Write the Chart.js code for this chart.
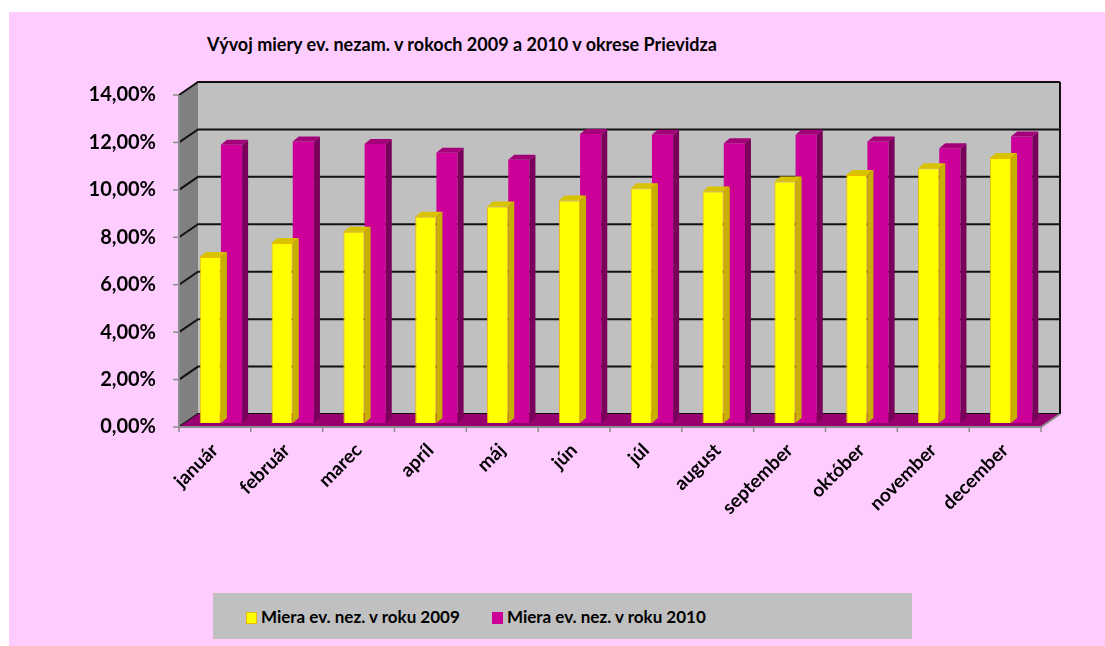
<!DOCTYPE html>
<html>
<head>
<meta charset="utf-8">
<script src="https://cdn.jsdelivr.net/npm/chart.js@4.4.0/dist/chart.umd.min.js"></script>
<style>
  html, body { margin: 0; padding: 0; background: #fff; }
  #wrap { position: relative; width: 1105px; height: 646px; overflow: hidden; }
  #bg { position: absolute; left: 9px; top: 12px; right: 0; bottom: 0; background: #FFCCFF; }
  #chart { position: absolute; left: 0; top: 0; }
  #title { position: absolute; left: 0; width: 924px; top: 33px; text-align: center;
    font: bold 18px Lato, sans-serif; color: #000; }
  #legend { position: absolute; left: 213px; top: 593px; width: 699px; height: 46px; background: #C0C0C0;
    font: bold 17px Lato, sans-serif; color: #000; }
  .item { position: absolute; top: 13px; white-space: nowrap; }
  .sw { display: inline-block; width: 11px; height: 12px; vertical-align: -1px; margin-right: 4px; box-sizing: border-box; }
</style>
</head>
<body>
<div id="wrap">
  <div id="bg"></div>
  <div id="title">Vývoj miery ev. nezam. v rokoch 2009 a 2010 v okrese Prievidza</div>
  <canvas id="chart" width="1105" height="646"></canvas>
  <div id="legend"></div>
</div>
<script>
// Data
const months = ['január', 'február', 'marec', 'apríl', 'máj', 'jún', 'júl', 'august', 'september', 'október', 'november', 'december'];
const rate2009 = [7.00, 7.59, 8.07, 8.70, 9.13, 9.38, 9.90, 9.76, 10.18, 10.46, 10.74, 11.17];
const rate2010 = [11.73, 11.87, 11.77, 11.40, 11.10, 12.19, 12.15, 11.80, 12.15, 11.87, 11.59, 12.08];
const seriesNames = ['Miera ev. nez. v roku 2009', 'Miera ev. nez. v roku 2010'];
const yTicks = [0, 2, 4, 6, 8, 10, 12, 14];

const fontName = 'Lato, sans-serif';
const DX = 19, DY = 13;          // depth of the 3D box
const BX = 6, BY = 4;            // bar position inside the box
const CX = 6, CY = 5;            // bar depth

// Legend
const legend = document.getElementById('legend');
legend.innerHTML =
    '<span class="item" style="left:33px"><span class="sw" style="background:#FFFF00;border:1px solid #F0B800"></span>' + seriesNames[0] + '</span>' +
    '<span class="item" style="left:279px"><span class="sw" style="background:#CC0099"></span>' + seriesNames[1] + '</span>';

// 3D walls, floor and grid
const box3d = {
    id: 'box3d',
    beforeDatasetsDraw(chart) {
        const ctx = chart.ctx;
        const a = chart.chartArea;
        const y = chart.scales.y;
        ctx.save();
        // back wall
        ctx.fillStyle = '#C0C0C0';
        ctx.fillRect(a.left + DX, a.top - DY, a.right - a.left, a.bottom - a.top);
        // side wall
        ctx.fillStyle = '#808080';
        ctx.beginPath();
        ctx.moveTo(a.left, a.top);
        ctx.lineTo(a.left + DX, a.top - DY);
        ctx.lineTo(a.left + DX, a.bottom - DY);
        ctx.lineTo(a.left, a.bottom);
        ctx.closePath();
        ctx.fill();
        // grid lines
        ctx.strokeStyle = '#111';
        ctx.lineWidth = 2;
        yTicks.forEach(v => {
            const py = y.getPixelForValue(v);
            ctx.beginPath();
            ctx.moveTo(a.left, py);
            ctx.lineTo(a.left + DX, py - DY);
            ctx.lineTo(a.right + DX, py - DY);
            ctx.stroke();
        });
        // back wall right edge
        ctx.beginPath();
        ctx.moveTo(a.right + DX, a.top - DY);
        ctx.lineTo(a.right + DX, a.bottom - DY);
        ctx.stroke();
        // floor
        ctx.fillStyle = '#99006F';
        ctx.beginPath();
        ctx.moveTo(a.left, a.bottom);
        ctx.lineTo(a.left + DX, a.bottom - DY);
        ctx.lineTo(a.right + DX, a.bottom - DY);
        ctx.lineTo(a.right, a.bottom);
        ctx.closePath();
        ctx.fill();
        // front axis lines and ticks
        ctx.strokeStyle = '#8C8C8C';
        ctx.lineWidth = 2;
        ctx.beginPath();
        ctx.moveTo(a.left, a.top);
        ctx.lineTo(a.left, a.bottom);
        ctx.lineTo(a.right, a.bottom);
        ctx.lineTo(a.right + DX, a.bottom - DY);
        ctx.stroke();
        ctx.lineWidth = 1.5;
        yTicks.forEach(v => {
            const py = y.getPixelForValue(v);
            ctx.beginPath();
            ctx.moveTo(a.left - 6, py);
            ctx.lineTo(a.left, py);
            ctx.stroke();
        });
        const cw = (a.right - a.left) / months.length;
        for (let i = 0; i <= months.length; i++) {
            const px = a.left + i * cw;
            ctx.beginPath();
            ctx.moveTo(px, a.bottom);
            ctx.lineTo(px, a.bottom + 5);
            ctx.stroke();
        }
        ctx.restore();
        ctx.save();
        ctx.translate(BX, -BY);
    },
    afterDatasetDraw(chart, args) {
        const ctx = chart.ctx;
        const top = args.index === 0 ? '#D9C200' : '#A3007A';
        const side = args.index === 0 ? '#C8B000' : '#7A005C';
        args.meta.data.forEach(bar => {
            const p = bar.getProps(['x', 'y', 'base', 'width'], true);
            const l = p.x - p.width / 2, r = p.x + p.width / 2;
            ctx.fillStyle = side;
            ctx.beginPath();
            ctx.moveTo(r, p.y);
            ctx.lineTo(r + CX, p.y - CY);
            ctx.lineTo(r + CX, p.base - CY);
            ctx.lineTo(r, p.base);
            ctx.closePath();
            ctx.fill();
            ctx.fillStyle = top;
            ctx.beginPath();
            ctx.moveTo(l, p.y);
            ctx.lineTo(l + CX, p.y - CY);
            ctx.lineTo(r + CX, p.y - CY);
            ctx.lineTo(r, p.y);
            ctx.closePath();
            ctx.fill();
        });
    },
    afterDatasetsDraw(chart) {
        chart.ctx.restore();
    }
};

new Chart(document.getElementById('chart'), {
    type: 'bar',
    data: {
        labels: months,
        datasets: [{
            label: seriesNames[0],
            data: rate2009,
            backgroundColor: '#FFFF00',
            borderColor: '#F0B800',
            borderWidth: 1,
            clip: false
        }, {
            label: seriesNames[1],
            data: rate2010,
            backgroundColor: '#CC0099',
            borderWidth: 0,
            clip: false
        }]
    },
    options: {
        responsive: false,
        animation: false,
        categoryPercentage: 0.59,
        barPercentage: 1.0,
        layout: { padding: { left: 0, top: 95, right: 64, bottom: 119 } },
        plugins: {
            legend: { display: false },
            tooltip: { enabled: false }
        },
        scales: {
            x: {
                grid: { display: false, drawTicks: false },
                border: { display: false },
                ticks: {
                    color: '#000',
                    font: { family: fontName, size: 19, weight: 'bold' },
                    maxRotation: 45,
                    minRotation: 45,
                    padding: 12,
                    autoSkip: false
                },
                afterFit: s => { s.height = 100; }
            },
            y: {
                min: 0,
                max: 14,
                grid: { display: false, drawTicks: false },
                border: { display: false },
                ticks: {
                    stepSize: 2,
                    color: '#000',
                    padding: 23,
                    font: { family: fontName, size: 20, weight: 'bold' },
                    callback: v => v.toFixed(2).replace('.', ',') + '%'
                },
                afterFit: s => { s.width = 179; }
            }
        }
    },
    plugins: [box3d]
});
</script>
</body>
</html>
